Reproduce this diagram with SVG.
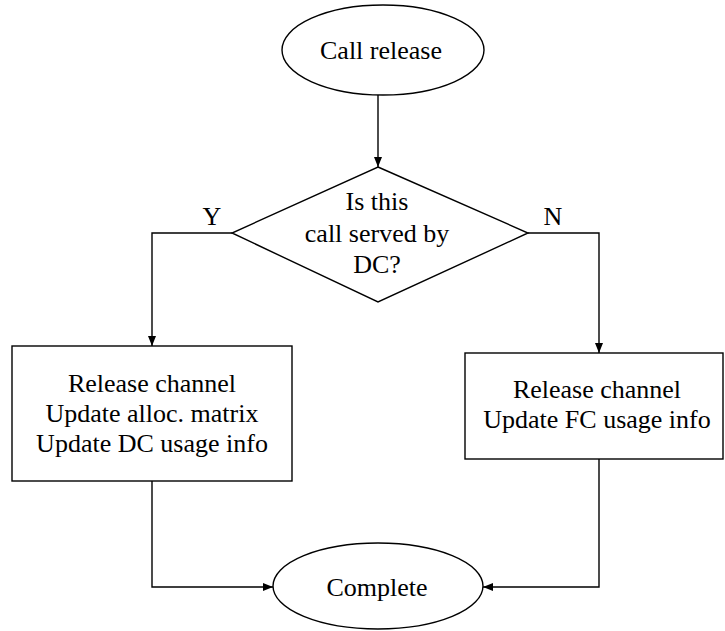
<svg xmlns="http://www.w3.org/2000/svg" width="725" height="631" viewBox="0 0 725 631">
<defs>
<marker id="ah" markerWidth="10" markerHeight="10" viewBox="0 0 10 10" refX="10" refY="5" orient="auto" markerUnits="userSpaceOnUse">
<path d="M0,1 L10,5 L0,9 Z" fill="#000"/>
</marker>
<style>
.s{fill:#fff;stroke:#000;stroke-width:1.4}
.c{fill:none;stroke:#000;stroke-width:1.4;marker-end:url(#ah)}
text{font-family:"Liberation Serif","Times New Roman",serif;font-size:26px;fill:#000;text-anchor:middle}
</style>
</defs>
<rect width="725" height="631" fill="#fff"/>
<g id="connectors">
<path class="c" d="M378,95 V167"/>
<path class="c" d="M232,233 H152 V346"/>
<path class="c" d="M528,233 H599 V353"/>
<path class="c" d="M152,481 V587 H273"/>
<path class="c" d="M599,459 V587 H483"/>
</g>
<g id="start">
<ellipse class="s" cx="383" cy="50" rx="101" ry="45"/>
<text x="381" y="59">Call release</text>
</g>
<g id="decision">
<polygon class="s" points="378,167 528,233 378,302 232,233"/>
<text x="377" y="210">Is this</text>
<text x="377" y="242">call served by</text>
<text x="377" y="273">DC?</text>
</g>
<g id="labels">
<text x="212" y="225">Y</text>
<text x="553" y="225">N</text>
</g>
<g id="dc-box">
<rect class="s" x="12" y="346" width="280" height="135"/>
<text x="152" y="392">Release channel</text>
<text x="152" y="422">Update alloc. matrix</text>
<text x="152" y="452">Update DC usage info</text>
</g>
<g id="fc-box">
<rect class="s" x="465" y="353" width="258" height="106"/>
<text x="597" y="398">Release channel</text>
<text x="597" y="428">Update FC usage info</text>
</g>
<g id="end">
<ellipse class="s" cx="378" cy="586" rx="105" ry="43"/>
<text x="377" y="596">Complete</text>
</g>
</svg>
